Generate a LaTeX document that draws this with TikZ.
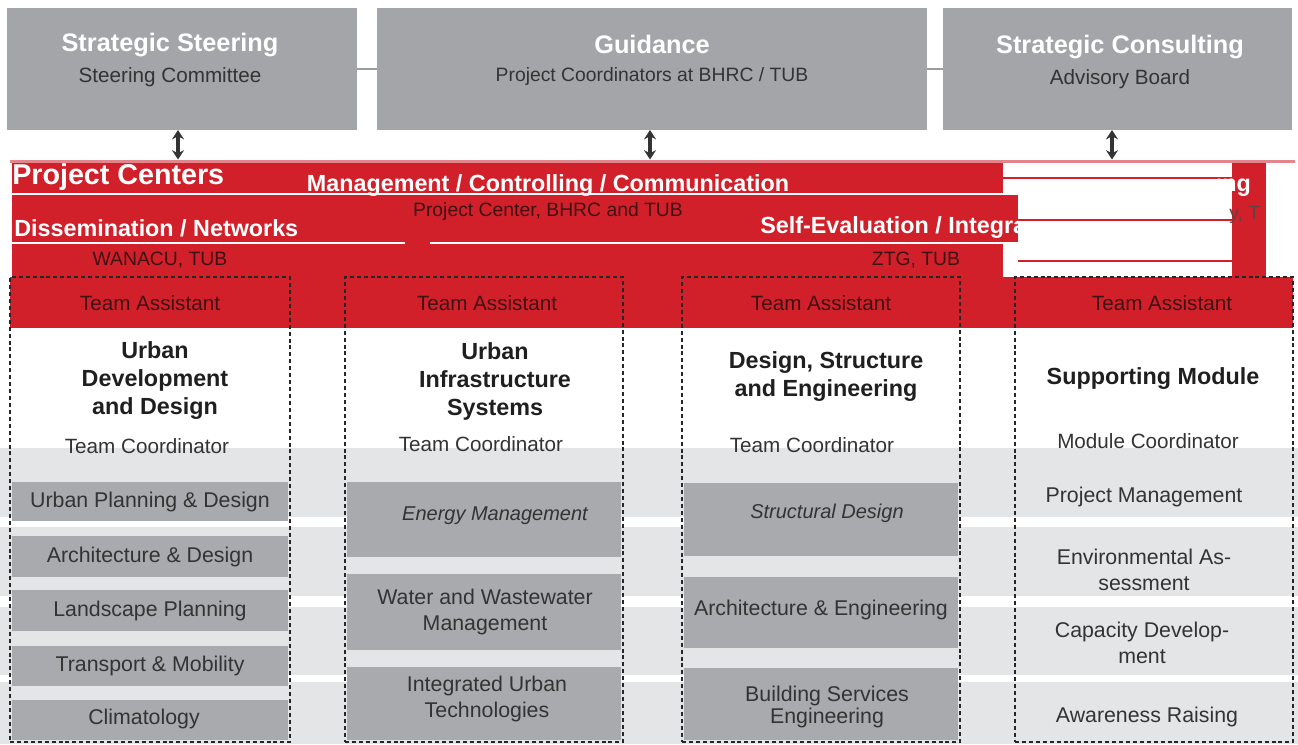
\documentclass[tikz,border=0pt]{standalone}
\usepackage{fontspec}
\setmainfont{Liberation Sans}
\usetikzlibrary{fit,arrows.meta}
\definecolor{topgray}{HTML}{A3A5A8}
\definecolor{boxgray}{HTML}{A8AAAD}
\definecolor{lightgray}{HTML}{E4E5E7}
\definecolor{bandred}{HTML}{D2202A}
\definecolor{pinkline}{HTML}{E3858B}
\definecolor{txt}{HTML}{333333}
\definecolor{darkred}{HTML}{3E1214}
\definecolor{linkgray}{HTML}{9A9C9F}
\begin{document}
\begin{tikzpicture}[x=0.75pt,y=-0.75pt,
  area/.style={inner sep=0pt, outer sep=0pt, draw=none},
  topbox/.style={area, fill=topgray},
  graybox/.style={area, fill=boxgray},
  lightband/.style={area, fill=lightgray},
  redarea/.style={area, fill=bandred},
  colbox/.style={area, draw=black!85, line width=1.4pt, dash pattern=on 3pt off 2.2pt},
  ttl/.style={text=white, font=\bfseries\fontsize{19}{22}\selectfont, inner sep=0pt},
  sub/.style={text=txt, font=\fontsize{15.5}{18}\selectfont, inner sep=0pt},
  bandttl/.style={text=white, font=\bfseries\fontsize{17.5}{20}\selectfont, inner sep=0pt},
  bandsub/.style={text=darkred, font=\fontsize{14.5}{17}\selectfont, inner sep=0pt},
  assist/.style={text=darkred, font=\fontsize{15.5}{18}\selectfont, inner sep=0pt},
  coltitle/.style={text=black!88, font=\bfseries\fontsize{17.5}{21}\selectfont, align=center, inner sep=0pt},
  coord/.style={text=txt, font=\fontsize{15.5}{18}\selectfont, inner sep=0pt},
  item/.style={text=txt, font=\fontsize{16}{19.5}\selectfont, align=center, inner sep=0pt},
  itemit/.style={text=txt, font=\itshape\fontsize{15}{18}\selectfont, align=center, inner sep=0pt},
  link/.style={draw=linkgray, line width=2pt},
  arr/.style={draw=txt, line width=2.4pt, {Stealth[length=7pt,width=9pt]}-{Stealth[length=7pt,width=9pt]}}
]
\useasboundingbox (0,0) rectangle (1298,744);

% ---------------- light background bands
\node[lightband, fit={(0,448)(1298,517)}] (lb1) {};
\node[lightband, fit={(0,527)(1298,596)}] (lb2) {};
\node[lightband, fit={(0,607)(1298,675)}] (lb3) {};
\node[lightband, fit={(0,682)(1298,744)}] (lb4) {};

% ---------------- top boxes
\node[topbox, fit={(7,8)(357,130)}] (b1) {};
\node[topbox, fit={(377,8)(927,130)}] (b2) {};
\node[topbox, fit={(943,8)(1292,130)}] (b3) {};
\draw[link] (b1.east) -- (b2.west);
\draw[link] (b2.east) -- (b3.west);

\node[ttl] (t1) at (170,45) {Strategic Steering};
\node[sub] (s1) at (170,77) {Steering Committee};
\node[ttl] (t2) at (652,44) {Guidance};
\node[sub, font=\fontsize{14.5}{17}\selectfont] (s2) at (652,76) {Project Coordinators at BHRC / TUB};
\node[ttl] (t3) at (1120,47) {Strategic Consulting};
\node[sub] (s3) at (1120,79) {Advisory Board};

% ---------------- red band
\node[area, fill=pinkline, fit={(10,159.5)(1295,163)}] (topline) {};
\node[redarea, fit={(12,163)(1003,277)}] (band) {};
\node[redarea, fit={(1003,195)(1020,243)}] (bandext) {};
\node[redarea, fit={(1232,163)(1266,277)}] (strip) {};
\node[redarea, fit={(10,277)(1293,328)}] (assistrow) {};

\coordinate (a1) at (178,0);
\coordinate (a2) at (650,0);
\coordinate (a3) at (1112,0);
\draw[arr] (b1.south -| a1) -- (topline.north -| a1);
\draw[arr] (b2.south -| a2) -- (topline.north -| a2);
\draw[arr] (b3.south -| a3) -- (topline.north -| a3);

\draw[white, line width=1.5pt] (band.west |- 0,194) -- (1003,194);
\draw[white, line width=1.5pt] (band.west |- 0,243) -- (405,243);
\draw[white, line width=1.5pt] (430,243) -- (bandext.east |- 0,243);

\node[bandttl, anchor=west, font=\bfseries\fontsize{21.5}{25}\selectfont] (pc) at (12,177) {Project Centers};
\node[bandttl] (mcc) at (548,186) {Management / Controlling / Communication};
\node[bandsub] (pcb) at (548,211) {Project Center, BHRC and TUB};
\node[bandttl, anchor=west] (dn) at (14,228) {Dissemination / Networks};
\node[bandsub] (wan) at (160,260) {WANACU, TUB};
\node[bandttl, anchor=west] (sei) at (760,228) {Self-Evaluation / Integra};
\node[bandsub] (ztg) at (916,260) {ZTG, TUB};

% white patch with faint lines
\node[area, fill=white, fit={(1018,163)(1232,277)}] (patch) {};
\node[area, fill=white, fit={(1003,163)(1018,195)}] (patchb) {};
\node[area, fill=white, fit={(1003,243)(1018,277)}] (patchc) {};
\draw[bandred, line width=0.8pt] (patchb.west |- 0,178) -- (strip.west |- 0,178);
\draw[bandred, line width=0.8pt] (patch.west |- 0,220) -- (strip.west |- 0,220);
\draw[bandred, line width=0.8pt] (patch.west |- 0,261) -- (strip.west |- 0,261);
\node[bandttl, anchor=east] (frag1) at (1251,186) {ing};
\node[bandsub, anchor=west, text=darkred!80] (frag2) at (1229,215) {y, T};

% ---------------- gray boxes in columns
\node[graybox, fit={(12,482)(288,521)}] (g11) {};
\node[graybox, fit={(12,536)(288,577)}] (g12) {};
\node[graybox, fit={(12,590)(288,631)}] (g13) {};
\node[graybox, fit={(12,646)(288,686)}] (g14) {};
\node[graybox, fit={(12,700)(288,740)}] (g15) {};
\node[graybox, fit={(347,482)(621,557)}] (g21) {};
\node[graybox, fit={(347,574)(621,650)}] (g22) {};
\node[graybox, fit={(347,667)(621,740)}] (g23) {};
\node[graybox, fit={(684,483)(958,556)}] (g31) {};
\node[graybox, fit={(684,577)(958,648)}] (g32) {};
\node[graybox, fit={(684,668)(958,740)}] (g33) {};

% ---------------- columns (dashed)
\node[colbox, fit={(10,277)(290,742)}] (c1) {};
\node[colbox, fit={(345,277)(623,742)}] (c2) {};
\node[colbox, fit={(682,277)(960,742)}] (c3) {};
\node[colbox, fit={(1015,277)(1293,742)}] (c4) {};

% ---------------- column texts
\node[assist] (ta1) at (150,303) {Team Assistant};
\node[assist] (ta2) at (487,303) {Team Assistant};
\node[assist] (ta3) at (821,303) {Team Assistant};
\node[assist] (ta4) at (1162,303) {Team Assistant};

\node[coltitle] (h1) at (155,381) {Urban\\Development\\and Design};
\node[coltitle] (h2) at (495,381) {Urban\\Infrastructure\\Systems};
\node[coltitle] (h3) at (826,377) {Design, Structure\\and Engineering};
\node[coltitle] (h4) at (1153,379) {Supporting Module};

\node[coord] (tc1) at (147,446) {Team Coordinator};
\node[coord] (tc2) at (481,444) {Team Coordinator};
\node[coord] (tc3) at (812,445) {Team Coordinator};
\node[coord] (mc4) at (1148,441) {Module Coordinator};

\node[item] (i11) at (g11) {Urban Planning \& Design};
\node[item] (i12) at (g12) {Architecture \& Design};
\node[item] (i13) at (g13) {Landscape Planning};
\node[item] (i14) at (g14) {Transport \& Mobility};
\node[item] (i15) at (144,719) {Climatology};

\node[itemit] (i21) at (495,516) {Energy Management};
\node[item] (i22) at (485,612) {Water and Wastewater\\Management};
\node[item] (i23) at (487,699) {Integrated Urban\\Technologies};

\node[itemit] (i31) at (827,513) {Structural Design};
\node[item] (i32) at (821,610) {Architecture \& Engineering};
\node[item, font=\fontsize{16}{14.5}\selectfont] (i33) at (827,707) {Building Services\\Engineering};

\node[item] (i41) at (1144,497) {Project Management};
\node[item] (i42) at (1144,570) {Environmental As-\\sessment};
\node[item] (i43) at (1142,643) {Capacity Develop-\\ment};
\node[item] (i44) at (1147,717) {Awareness Raising};
\end{tikzpicture}
\end{document}
